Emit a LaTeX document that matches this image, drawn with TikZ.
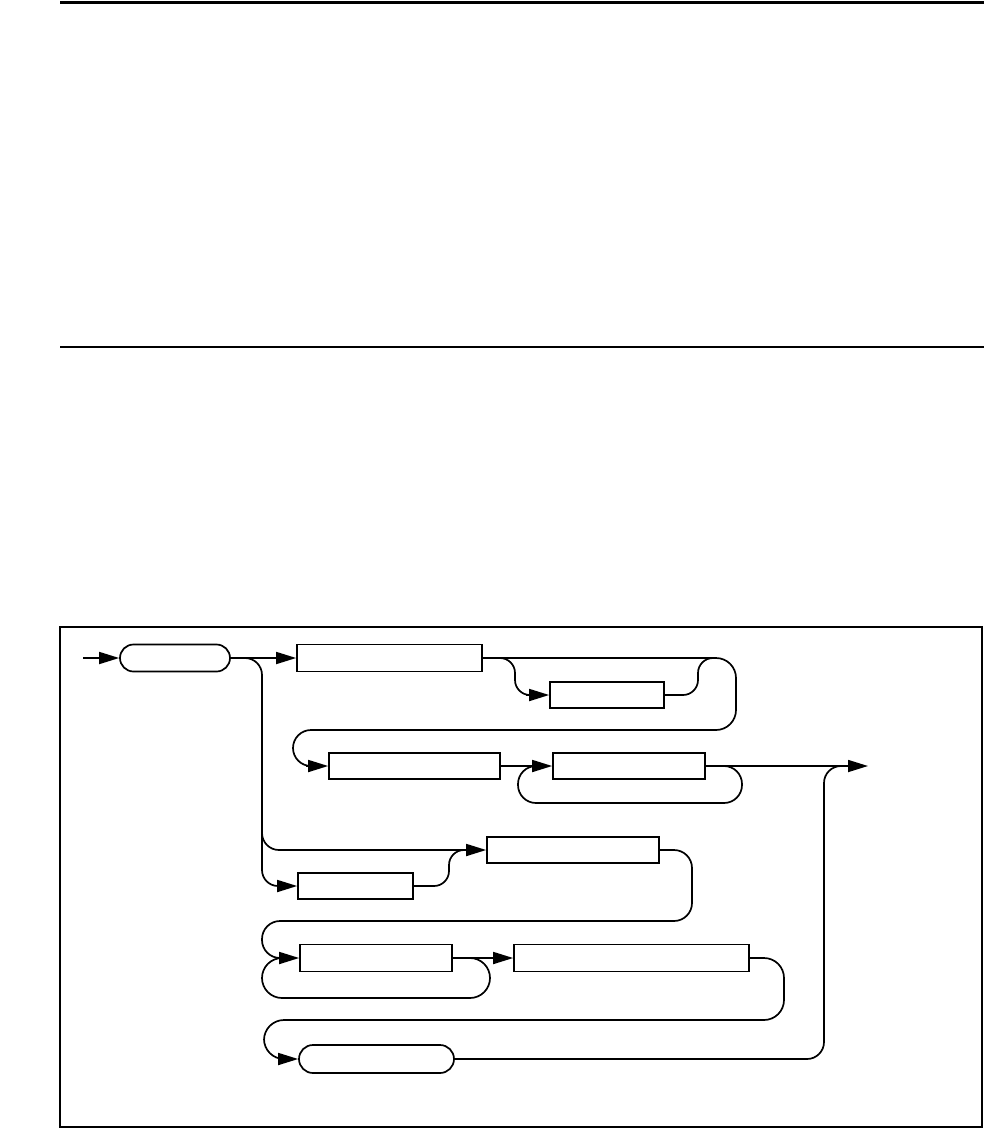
\documentclass[tikz,border=0pt]{standalone}
\usetikzlibrary{arrows.meta,shapes.misc}
\begin{document}
\begin{tikzpicture}[x=1pt,y=-1pt,
  line/.style={line width=1.7pt,line join=round},
  arr/.style={line,-{Triangle[length=20pt,width=12pt]}},
  ntbox/.style={draw,line width=1.7pt,rectangle,minimum height=27pt,inner sep=0pt},
  tbox/.style={draw,line width=1.7pt,rounded rectangle,minimum height=27pt,inner sep=0pt},
  rule/.style={line width=3pt}]
\useasboundingbox (0,0) rectangle (984,1128);
% rules and frame
\draw[rule] (60,2) -- (984,2);
\draw[line width=2.5pt] (60,347) -- (984,347);
\draw[line width=1.6pt] (60,627) rectangle (982,1127);
% nodes
\node[tbox,minimum width=110pt] (t1) at (175,658) {};
\node[ntbox,minimum width=185pt] (b2) at (389.5,658) {};
\node[ntbox,minimum width=114pt,minimum height=26pt] (bo) at (607,695) {};
\node[ntbox,minimum width=171pt,minimum height=26pt] (b3) at (414.5,766) {};
\node[ntbox,minimum width=152pt,minimum height=26pt] (b4) at (629,766) {};
\node[ntbox,minimum width=172pt,minimum height=26pt] (b6) at (573,850) {};
\node[ntbox,minimum width=115pt,minimum height=26pt] (b5) at (355.5,886) {};
\node[ntbox,minimum width=152pt] (b7) at (376,958) {};
\node[ntbox,minimum width=235pt] (b8) at (631.5,958) {};
\node[tbox,minimum width=155pt,minimum height=28pt] (t9) at (376.5,1059) {};
\coordinate (in) at (83,658);
\coordinate (out) at (868,766);
% connectors
\draw[arr] (in) -- (t1.west);
\draw[arr] (t1.east) -- (b2.west);
\draw[line,rounded corners=17pt] (t1.east) -- (262,658) -- (262,850) -- (400,850);
\draw[arr] (400,850) -- (b6.west);
\draw[line,rounded corners=16pt] (262,800) -- (262,886) -- (285,886);
\draw[arr] (278,886) -- (b5.west);
% optional after b2
\draw[line,rounded corners=15pt] (b2.east) -- (515,658) -- (515,695) -- (530,695);
\draw[arr] (526,695) -- (bo.west);
\draw[line,rounded corners=15pt] (bo.east) -- (698,695) -- (698,658) -- (715,658);
% line to row 2
\draw[line,rounded corners=20pt] (b2.east) -- (736,658) -- (736,730) -- (500,730);
\draw[line,rounded corners=18pt] (500,730) -- (293,730) -- (293,766) -- (315,766);
\draw[arr] (306,766) -- (b3.west);
\draw[arr] (b3.east) -- (b4.west);
\draw[line,rounded corners=18pt] (b4.east) -- (742,766) -- (742,803) -- (518,803) -- (518,766) -- (540,766);
\draw[arr] (b4.east) -- (out);
% row 3 loop to row 4
\draw[line,rounded corners=15pt] (b5.east) -- (449,886) -- (449,850) -- (470,850);
\draw[line,rounded corners=18pt] (b6.east) -- (692,850) -- (692,921) -- (262,921) -- (262,958) -- (285,958);
\draw[arr] (278,958) -- (b7.west);
\draw[line,rounded corners=20pt] (b7.east) -- (490,958) -- (490,998) -- (262,998) -- (262,958) -- (285,958);
\draw[arr] (b7.east) -- (b8.west);
\draw[line,rounded corners=20pt] (b8.east) -- (784,958) -- (784,1020) -- (264,1020) -- (264,1059) -- (285,1059);
\draw[arr] (278,1059) -- (t9.west);
\draw[line,rounded corners=17pt] (t9.east) -- (824,1059) -- (824,766) -- (850,766);
\end{tikzpicture}
\end{document}
